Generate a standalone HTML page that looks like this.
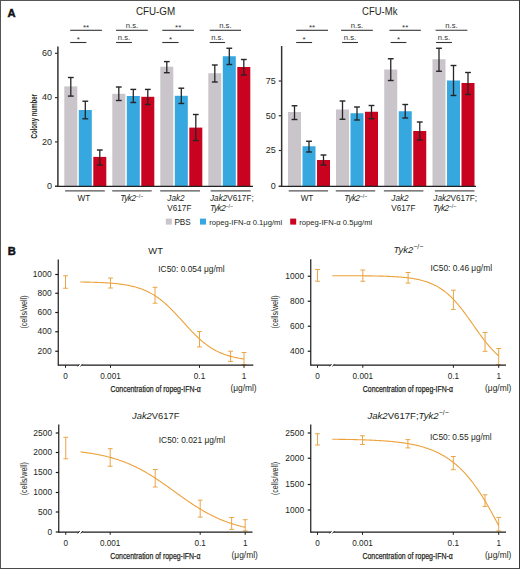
<!DOCTYPE html>
<html><head><meta charset="utf-8"><style>
html,body{margin:0;padding:0;background:#fff;}
body{width:520px;height:569px;overflow:hidden;}
svg{display:block;font-family:"Liberation Sans", sans-serif;}
</style></head><body>
<svg width="520" height="569" viewBox="0 0 520 569">
<rect x="0" y="0" width="520" height="1" fill="#555"/>
<rect x="0" y="0" width="1" height="569" fill="#555"/>
<rect x="519" y="0" width="1" height="569" fill="#3a3a3a"/>
<rect x="0" y="568" width="520" height="1" fill="#4a4a4a"/>
<text x="7.40" y="17.20" font-size="11.2" text-anchor="start" font-weight="bold" fill="#111" stroke="#111" stroke-width="0.45">A</text>
<text x="7.70" y="255.00" font-size="11.2" text-anchor="start" font-weight="bold" fill="#111" stroke="#111" stroke-width="0.45">B</text>
<rect x="64.30" y="86.40" width="13.00" height="99.90" fill="#c9c5cb"/>
<rect x="78.80" y="110.00" width="13.00" height="76.30" fill="#36a7df"/>
<rect x="93.30" y="156.90" width="13.00" height="29.40" fill="#c9021f"/>
<line x1="70.80" y1="77.50" x2="70.80" y2="96.10" stroke="#262626" stroke-width="1.3"/>
<line x1="67.90" y1="77.50" x2="73.70" y2="77.50" stroke="#262626" stroke-width="1.4"/>
<line x1="67.90" y1="96.10" x2="73.70" y2="96.10" stroke="#262626" stroke-width="1.4"/>
<line x1="85.30" y1="101.20" x2="85.30" y2="118.80" stroke="#262626" stroke-width="1.3"/>
<line x1="82.40" y1="101.20" x2="88.20" y2="101.20" stroke="#262626" stroke-width="1.4"/>
<line x1="82.40" y1="118.80" x2="88.20" y2="118.80" stroke="#262626" stroke-width="1.4"/>
<line x1="99.80" y1="150.00" x2="99.80" y2="165.00" stroke="#262626" stroke-width="1.3"/>
<line x1="96.90" y1="150.00" x2="102.70" y2="150.00" stroke="#262626" stroke-width="1.4"/>
<line x1="96.90" y1="165.00" x2="102.70" y2="165.00" stroke="#262626" stroke-width="1.4"/>
<rect x="112.30" y="93.80" width="13.00" height="92.50" fill="#c9c5cb"/>
<rect x="126.80" y="96.00" width="13.00" height="90.30" fill="#36a7df"/>
<rect x="141.30" y="96.80" width="13.00" height="89.50" fill="#c9021f"/>
<line x1="118.80" y1="87.00" x2="118.80" y2="100.50" stroke="#262626" stroke-width="1.3"/>
<line x1="115.90" y1="87.00" x2="121.70" y2="87.00" stroke="#262626" stroke-width="1.4"/>
<line x1="115.90" y1="100.50" x2="121.70" y2="100.50" stroke="#262626" stroke-width="1.4"/>
<line x1="133.30" y1="89.40" x2="133.30" y2="102.50" stroke="#262626" stroke-width="1.3"/>
<line x1="130.40" y1="89.40" x2="136.20" y2="89.40" stroke="#262626" stroke-width="1.4"/>
<line x1="130.40" y1="102.50" x2="136.20" y2="102.50" stroke="#262626" stroke-width="1.4"/>
<line x1="147.80" y1="89.40" x2="147.80" y2="104.50" stroke="#262626" stroke-width="1.3"/>
<line x1="144.90" y1="89.40" x2="150.70" y2="89.40" stroke="#262626" stroke-width="1.4"/>
<line x1="144.90" y1="104.50" x2="150.70" y2="104.50" stroke="#262626" stroke-width="1.4"/>
<rect x="160.30" y="66.70" width="13.00" height="119.60" fill="#c9c5cb"/>
<rect x="174.80" y="95.80" width="13.00" height="90.50" fill="#36a7df"/>
<rect x="189.30" y="127.60" width="13.00" height="58.70" fill="#c9021f"/>
<line x1="166.80" y1="61.60" x2="166.80" y2="72.70" stroke="#262626" stroke-width="1.3"/>
<line x1="163.90" y1="61.60" x2="169.70" y2="61.60" stroke="#262626" stroke-width="1.4"/>
<line x1="163.90" y1="72.70" x2="169.70" y2="72.70" stroke="#262626" stroke-width="1.4"/>
<line x1="181.30" y1="88.20" x2="181.30" y2="103.50" stroke="#262626" stroke-width="1.3"/>
<line x1="178.40" y1="88.20" x2="184.20" y2="88.20" stroke="#262626" stroke-width="1.4"/>
<line x1="178.40" y1="103.50" x2="184.20" y2="103.50" stroke="#262626" stroke-width="1.4"/>
<line x1="195.80" y1="114.50" x2="195.80" y2="140.60" stroke="#262626" stroke-width="1.3"/>
<line x1="192.90" y1="114.50" x2="198.70" y2="114.50" stroke="#262626" stroke-width="1.4"/>
<line x1="192.90" y1="140.60" x2="198.70" y2="140.60" stroke="#262626" stroke-width="1.4"/>
<rect x="208.30" y="73.25" width="13.00" height="113.05" fill="#c9c5cb"/>
<rect x="222.80" y="56.25" width="13.00" height="130.05" fill="#36a7df"/>
<rect x="237.30" y="67.00" width="13.00" height="119.30" fill="#c9021f"/>
<line x1="214.80" y1="65.00" x2="214.80" y2="82.00" stroke="#262626" stroke-width="1.3"/>
<line x1="211.90" y1="65.00" x2="217.70" y2="65.00" stroke="#262626" stroke-width="1.4"/>
<line x1="211.90" y1="82.00" x2="217.70" y2="82.00" stroke="#262626" stroke-width="1.4"/>
<line x1="229.30" y1="48.25" x2="229.30" y2="64.50" stroke="#262626" stroke-width="1.3"/>
<line x1="226.40" y1="48.25" x2="232.20" y2="48.25" stroke="#262626" stroke-width="1.4"/>
<line x1="226.40" y1="64.50" x2="232.20" y2="64.50" stroke="#262626" stroke-width="1.4"/>
<line x1="243.80" y1="59.50" x2="243.80" y2="75.00" stroke="#262626" stroke-width="1.3"/>
<line x1="240.90" y1="59.50" x2="246.70" y2="59.50" stroke="#262626" stroke-width="1.4"/>
<line x1="240.90" y1="75.00" x2="246.70" y2="75.00" stroke="#262626" stroke-width="1.4"/>
<line x1="57.90" y1="46.40" x2="57.90" y2="187.00" stroke="#333" stroke-width="1.5"/>
<line x1="55.00" y1="186.30" x2="253.00" y2="186.30" stroke="#222" stroke-width="1.3"/>
<line x1="55.00" y1="186.30" x2="57.90" y2="186.30" stroke="#333" stroke-width="1.2"/>
<text x="52.00" y="189.10" font-size="9.0" text-anchor="end" fill="#231f20" >0</text>
<line x1="55.00" y1="141.90" x2="57.90" y2="141.90" stroke="#333" stroke-width="1.2"/>
<text x="52.00" y="144.70" font-size="9.0" text-anchor="end" fill="#231f20" >20</text>
<line x1="55.00" y1="97.60" x2="57.90" y2="97.60" stroke="#333" stroke-width="1.2"/>
<text x="52.00" y="100.40" font-size="9.0" text-anchor="end" fill="#231f20" >40</text>
<line x1="55.00" y1="53.30" x2="57.90" y2="53.30" stroke="#333" stroke-width="1.2"/>
<text x="52.00" y="56.10" font-size="9.0" text-anchor="end" fill="#231f20" >60</text>
<line x1="65.10" y1="190.80" x2="104.80" y2="190.80" stroke="#555" stroke-width="1.2"/>
<line x1="112.20" y1="190.80" x2="151.70" y2="190.80" stroke="#555" stroke-width="1.2"/>
<line x1="160.20" y1="190.80" x2="200.00" y2="190.80" stroke="#555" stroke-width="1.2"/>
<line x1="210.70" y1="190.80" x2="250.70" y2="190.80" stroke="#555" stroke-width="1.2"/>
<line x1="70.20" y1="30.30" x2="101.90" y2="30.30" stroke="#333" stroke-width="1.1"/>
<line x1="70.20" y1="42.50" x2="86.40" y2="42.50" stroke="#333" stroke-width="1.1"/>
<text x="86.05" y="30.20" font-size="8.0" text-anchor="middle" fill="#333" >**</text>
<text x="78.30" y="42.40" font-size="8.0" text-anchor="middle" fill="#333" >*</text>
<line x1="116.10" y1="30.30" x2="147.80" y2="30.30" stroke="#333" stroke-width="1.1"/>
<line x1="116.10" y1="42.50" x2="131.90" y2="42.50" stroke="#333" stroke-width="1.1"/>
<text x="131.95" y="28.00" font-size="7.7" text-anchor="middle" fill="#333" >n.s.</text>
<text x="124.00" y="40.20" font-size="7.7" text-anchor="middle" fill="#333" >n.s.</text>
<line x1="162.30" y1="30.30" x2="194.00" y2="30.30" stroke="#333" stroke-width="1.1"/>
<line x1="162.30" y1="42.50" x2="178.60" y2="42.50" stroke="#333" stroke-width="1.1"/>
<text x="178.15" y="30.20" font-size="8.0" text-anchor="middle" fill="#333" >**</text>
<text x="170.45" y="42.40" font-size="8.0" text-anchor="middle" fill="#333" >*</text>
<line x1="209.70" y1="30.30" x2="241.00" y2="30.30" stroke="#333" stroke-width="1.1"/>
<line x1="209.70" y1="42.50" x2="225.10" y2="42.50" stroke="#333" stroke-width="1.1"/>
<text x="225.35" y="28.00" font-size="7.7" text-anchor="middle" fill="#333" >n.s.</text>
<text x="217.40" y="40.20" font-size="7.7" text-anchor="middle" fill="#333" >n.s.</text>
<text x="135.90" y="15.20" font-size="10" text-anchor="start" fill="#231f20" textLength="39.3" lengthAdjust="spacingAndGlyphs">CFU-GM</text>
<rect x="288.00" y="112.00" width="13.00" height="74.30" fill="#c9c5cb"/>
<rect x="302.50" y="146.25" width="13.00" height="40.05" fill="#36a7df"/>
<rect x="317.00" y="160.00" width="13.00" height="26.30" fill="#c9021f"/>
<line x1="294.50" y1="105.75" x2="294.50" y2="119.50" stroke="#262626" stroke-width="1.3"/>
<line x1="291.60" y1="105.75" x2="297.40" y2="105.75" stroke="#262626" stroke-width="1.4"/>
<line x1="291.60" y1="119.50" x2="297.40" y2="119.50" stroke="#262626" stroke-width="1.4"/>
<line x1="309.00" y1="141.25" x2="309.00" y2="152.00" stroke="#262626" stroke-width="1.3"/>
<line x1="306.10" y1="141.25" x2="311.90" y2="141.25" stroke="#262626" stroke-width="1.4"/>
<line x1="306.10" y1="152.00" x2="311.90" y2="152.00" stroke="#262626" stroke-width="1.4"/>
<line x1="323.50" y1="155.00" x2="323.50" y2="165.00" stroke="#262626" stroke-width="1.3"/>
<line x1="320.60" y1="155.00" x2="326.40" y2="155.00" stroke="#262626" stroke-width="1.4"/>
<line x1="320.60" y1="165.00" x2="326.40" y2="165.00" stroke="#262626" stroke-width="1.4"/>
<rect x="336.00" y="109.50" width="13.00" height="76.80" fill="#c9c5cb"/>
<rect x="350.50" y="113.25" width="13.00" height="73.05" fill="#36a7df"/>
<rect x="365.00" y="111.75" width="13.00" height="74.55" fill="#c9021f"/>
<line x1="342.50" y1="101.00" x2="342.50" y2="119.25" stroke="#262626" stroke-width="1.3"/>
<line x1="339.60" y1="101.00" x2="345.40" y2="101.00" stroke="#262626" stroke-width="1.4"/>
<line x1="339.60" y1="119.25" x2="345.40" y2="119.25" stroke="#262626" stroke-width="1.4"/>
<line x1="357.00" y1="107.00" x2="357.00" y2="120.00" stroke="#262626" stroke-width="1.3"/>
<line x1="354.10" y1="107.00" x2="359.90" y2="107.00" stroke="#262626" stroke-width="1.4"/>
<line x1="354.10" y1="120.00" x2="359.90" y2="120.00" stroke="#262626" stroke-width="1.4"/>
<line x1="371.50" y1="105.50" x2="371.50" y2="118.75" stroke="#262626" stroke-width="1.3"/>
<line x1="368.60" y1="105.50" x2="374.40" y2="105.50" stroke="#262626" stroke-width="1.4"/>
<line x1="368.60" y1="118.75" x2="374.40" y2="118.75" stroke="#262626" stroke-width="1.4"/>
<rect x="384.25" y="69.50" width="13.00" height="116.80" fill="#c9c5cb"/>
<rect x="398.75" y="111.25" width="13.00" height="75.05" fill="#36a7df"/>
<rect x="413.25" y="131.00" width="13.00" height="55.30" fill="#c9021f"/>
<line x1="390.75" y1="58.75" x2="390.75" y2="80.50" stroke="#262626" stroke-width="1.3"/>
<line x1="387.85" y1="58.75" x2="393.65" y2="58.75" stroke="#262626" stroke-width="1.4"/>
<line x1="387.85" y1="80.50" x2="393.65" y2="80.50" stroke="#262626" stroke-width="1.4"/>
<line x1="405.25" y1="104.50" x2="405.25" y2="118.00" stroke="#262626" stroke-width="1.3"/>
<line x1="402.35" y1="104.50" x2="408.15" y2="104.50" stroke="#262626" stroke-width="1.4"/>
<line x1="402.35" y1="118.00" x2="408.15" y2="118.00" stroke="#262626" stroke-width="1.4"/>
<line x1="419.75" y1="122.00" x2="419.75" y2="140.00" stroke="#262626" stroke-width="1.3"/>
<line x1="416.85" y1="122.00" x2="422.65" y2="122.00" stroke="#262626" stroke-width="1.4"/>
<line x1="416.85" y1="140.00" x2="422.65" y2="140.00" stroke="#262626" stroke-width="1.4"/>
<rect x="432.50" y="59.25" width="13.00" height="127.05" fill="#c9c5cb"/>
<rect x="447.00" y="80.50" width="13.00" height="105.80" fill="#36a7df"/>
<rect x="461.50" y="83.00" width="13.00" height="103.30" fill="#c9021f"/>
<line x1="439.00" y1="48.25" x2="439.00" y2="71.25" stroke="#262626" stroke-width="1.3"/>
<line x1="436.10" y1="48.25" x2="441.90" y2="48.25" stroke="#262626" stroke-width="1.4"/>
<line x1="436.10" y1="71.25" x2="441.90" y2="71.25" stroke="#262626" stroke-width="1.4"/>
<line x1="453.50" y1="65.50" x2="453.50" y2="95.50" stroke="#262626" stroke-width="1.3"/>
<line x1="450.60" y1="65.50" x2="456.40" y2="65.50" stroke="#262626" stroke-width="1.4"/>
<line x1="450.60" y1="95.50" x2="456.40" y2="95.50" stroke="#262626" stroke-width="1.4"/>
<line x1="468.00" y1="72.50" x2="468.00" y2="94.50" stroke="#262626" stroke-width="1.3"/>
<line x1="465.10" y1="72.50" x2="470.90" y2="72.50" stroke="#262626" stroke-width="1.4"/>
<line x1="465.10" y1="94.50" x2="470.90" y2="94.50" stroke="#262626" stroke-width="1.4"/>
<line x1="281.65" y1="46.00" x2="281.65" y2="187.00" stroke="#333" stroke-width="1.5"/>
<line x1="278.75" y1="186.30" x2="476.00" y2="186.30" stroke="#222" stroke-width="1.3"/>
<line x1="278.75" y1="186.30" x2="281.65" y2="186.30" stroke="#333" stroke-width="1.2"/>
<text x="275.75" y="189.10" font-size="9.0" text-anchor="end" fill="#231f20" >0</text>
<line x1="278.75" y1="150.50" x2="281.65" y2="150.50" stroke="#333" stroke-width="1.2"/>
<text x="275.75" y="153.30" font-size="9.0" text-anchor="end" fill="#231f20" >25</text>
<line x1="278.75" y1="115.75" x2="281.65" y2="115.75" stroke="#333" stroke-width="1.2"/>
<text x="275.75" y="118.55" font-size="9.0" text-anchor="end" fill="#231f20" >50</text>
<line x1="278.75" y1="81.00" x2="281.65" y2="81.00" stroke="#333" stroke-width="1.2"/>
<text x="275.75" y="83.80" font-size="9.0" text-anchor="end" fill="#231f20" >75</text>
<line x1="288.70" y1="190.80" x2="328.10" y2="190.80" stroke="#555" stroke-width="1.2"/>
<line x1="335.80" y1="190.80" x2="375.20" y2="190.80" stroke="#555" stroke-width="1.2"/>
<line x1="383.90" y1="190.80" x2="423.40" y2="190.80" stroke="#555" stroke-width="1.2"/>
<line x1="434.80" y1="190.80" x2="474.50" y2="190.80" stroke="#555" stroke-width="1.2"/>
<line x1="296.20" y1="30.30" x2="328.00" y2="30.30" stroke="#333" stroke-width="1.1"/>
<line x1="296.20" y1="42.50" x2="312.10" y2="42.50" stroke="#333" stroke-width="1.1"/>
<text x="312.10" y="30.20" font-size="8.0" text-anchor="middle" fill="#333" >**</text>
<text x="304.15" y="42.40" font-size="8.0" text-anchor="middle" fill="#333" >*</text>
<line x1="341.10" y1="30.30" x2="372.80" y2="30.30" stroke="#333" stroke-width="1.1"/>
<line x1="342.10" y1="42.50" x2="358.00" y2="42.50" stroke="#333" stroke-width="1.1"/>
<text x="356.95" y="28.00" font-size="7.7" text-anchor="middle" fill="#333" >n.s.</text>
<text x="350.05" y="40.20" font-size="7.7" text-anchor="middle" fill="#333" >n.s.</text>
<line x1="389.50" y1="30.30" x2="420.80" y2="30.30" stroke="#333" stroke-width="1.1"/>
<line x1="390.60" y1="42.50" x2="406.40" y2="42.50" stroke="#333" stroke-width="1.1"/>
<text x="405.15" y="30.20" font-size="8.0" text-anchor="middle" fill="#333" >**</text>
<text x="398.50" y="42.40" font-size="8.0" text-anchor="middle" fill="#333" >*</text>
<line x1="435.60" y1="30.30" x2="467.40" y2="30.30" stroke="#333" stroke-width="1.1"/>
<line x1="436.10" y1="42.50" x2="451.90" y2="42.50" stroke="#333" stroke-width="1.1"/>
<text x="451.50" y="28.00" font-size="7.7" text-anchor="middle" fill="#333" >n.s.</text>
<text x="444.00" y="40.20" font-size="7.7" text-anchor="middle" fill="#333" >n.s.</text>
<text x="362.10" y="15.20" font-size="10" text-anchor="start" fill="#231f20" textLength="35.3" lengthAdjust="spacingAndGlyphs">CFU-Mk</text>
<text transform="translate(36.6,116.25) rotate(-90)" font-size="9.35" font-weight="bold" text-anchor="middle" fill="#231f20" textLength="44.3" lengthAdjust="spacingAndGlyphs">Colony number</text>
<text x="83.80" y="201.00" font-size="8.2" text-anchor="middle" fill="#231f20" >WT</text>
<text x="120.20" y="201.00" font-size="8.2" text-anchor="start" fill="#231f20" ><tspan font-style="italic" letter-spacing="-0.45">Tyk2</tspan><tspan font-size="5.4" dy="-3.3">−/−</tspan></text>
<text x="167.30" y="201.00" font-size="8.2" text-anchor="start" font-style="italic" fill="#231f20" >Jak2</text>
<text x="167.30" y="211.20" font-size="8.2" text-anchor="start" fill="#231f20" >V617F</text>
<text x="210.00" y="201.00" font-size="8.2" text-anchor="start" fill="#231f20" ><tspan font-style="italic">Jak2</tspan>V617F;</text>
<text x="210.00" y="211.20" font-size="8.2" text-anchor="start" fill="#231f20" ><tspan font-style="italic" letter-spacing="-0.45">Tyk2</tspan><tspan font-size="5.4" dy="-3.3">−/−</tspan></text>
<text x="307.00" y="201.00" font-size="8.2" text-anchor="middle" fill="#231f20" >WT</text>
<text x="344.30" y="201.00" font-size="8.2" text-anchor="start" fill="#231f20" ><tspan font-style="italic" letter-spacing="-0.45">Tyk2</tspan><tspan font-size="5.4" dy="-3.3">−/−</tspan></text>
<text x="391.30" y="201.00" font-size="8.2" text-anchor="start" font-style="italic" fill="#231f20" >Jak2</text>
<text x="391.30" y="211.20" font-size="8.2" text-anchor="start" fill="#231f20" >V617F</text>
<text x="433.30" y="201.00" font-size="8.2" text-anchor="start" fill="#231f20" ><tspan font-style="italic">Jak2</tspan>V617F;</text>
<text x="433.30" y="211.20" font-size="8.2" text-anchor="start" fill="#231f20" ><tspan font-style="italic" letter-spacing="-0.45">Tyk2</tspan><tspan font-size="5.4" dy="-3.3">−/−</tspan></text>
<rect x="165.80" y="218.60" width="6.00" height="6.00" fill="#c9c5cb"/>
<text x="174.40" y="224.50" font-size="8.2" text-anchor="start" fill="#231f20" >PBS</text>
<rect x="200.00" y="218.60" width="6.00" height="6.00" fill="#36a7df"/>
<text x="209.20" y="224.50" font-size="7.65" text-anchor="start" fill="#231f20" >ropeg-IFN-α 0.1μg/ml</text>
<rect x="290.20" y="218.60" width="6.00" height="6.00" fill="#c9021f"/>
<text x="299.30" y="224.50" font-size="7.65" text-anchor="start" fill="#231f20" >ropeg-IFN-α 0.5μg/ml</text>
<polyline points="80.30,282.00 81.19,282.02 82.08,282.03 82.97,282.04 83.86,282.06 84.75,282.08 85.64,282.09 86.53,282.11 87.42,282.13 88.31,282.15 89.20,282.17 90.09,282.19 90.98,282.22 91.87,282.24 92.76,282.27 93.65,282.29 94.54,282.32 95.43,282.35 96.32,282.38 97.21,282.41 98.10,282.45 98.99,282.48 99.88,282.52 100.77,282.56 101.66,282.60 102.55,282.64 103.44,282.69 104.33,282.74 105.22,282.79 106.11,282.84 107.00,282.89 107.89,282.95 108.78,283.01 109.67,283.08 110.56,283.14 111.45,283.21 112.34,283.29 113.23,283.36 114.12,283.44 115.01,283.53 115.90,283.62 116.79,283.71 117.68,283.81 118.57,283.91 119.46,284.02 120.35,284.13 121.24,284.25 122.13,284.37 123.02,284.50 123.91,284.64 124.80,284.78 125.69,284.93 126.58,285.08 127.47,285.24 128.36,285.41 129.25,285.59 130.14,285.78 131.03,285.97 131.92,286.17 132.81,286.38 133.70,286.61 134.59,286.84 135.48,287.08 136.37,287.33 137.26,287.59 138.15,287.87 139.04,288.16 139.93,288.45 140.82,288.76 141.71,289.09 142.60,289.43 143.49,289.78 144.38,290.14 145.27,290.52 146.16,290.92 147.05,291.33 147.94,291.75 148.83,292.19 149.72,292.65 150.61,293.13 151.50,293.62 152.39,294.13 153.28,294.65 154.17,295.20 155.06,295.76 155.95,296.34 156.84,296.94 157.73,297.56 158.62,298.20 159.51,298.86 160.40,299.53 161.29,300.23 162.18,300.94 163.07,301.67 163.96,302.42 164.85,303.19 165.74,303.97 166.63,304.78 167.52,305.60 168.41,306.43 169.30,307.28 170.19,308.15 171.08,309.03 171.97,309.93 172.86,310.84 173.75,311.76 174.64,312.70 175.53,313.64 176.42,314.59 177.31,315.55 178.20,316.52 179.09,317.50 179.98,318.48 180.87,319.46 181.76,320.45 182.65,321.43 183.54,322.42 184.43,323.41 185.32,324.40 186.21,325.38 187.10,326.35 187.99,327.33 188.88,328.29 189.77,329.25 190.66,330.20 191.55,331.13 192.44,332.06 193.33,332.98 194.22,333.88 195.11,334.77 196.00,335.64 196.89,336.50 197.78,337.35 198.67,338.17 199.56,338.98 200.45,339.78 201.34,340.55 202.23,341.31 203.12,342.05 204.01,342.77 204.90,343.48 205.79,344.16 206.68,344.83 207.57,345.47 208.46,346.10 209.35,346.71 210.24,347.30 211.13,347.87 212.02,348.42 212.91,348.96 213.80,349.48 214.69,349.98 215.58,350.46 216.47,350.93 217.36,351.37 218.25,351.81 219.14,352.22 220.03,352.63 220.92,353.01 221.81,353.38 222.70,353.74 223.59,354.09 224.48,354.42 225.37,354.73 226.26,355.04 227.15,355.33 228.04,355.61 228.93,355.88 229.82,356.13 230.71,356.38 231.60,356.62 232.49,356.84 233.38,357.06 234.27,357.27 235.16,357.46 236.05,357.65 236.94,357.83 237.83,358.01 238.72,358.17 239.61,358.33 240.50,358.48 241.39,358.63 242.28,358.77 243.17,358.90 244.00,359.02" fill="none" stroke="#eca139" stroke-width="1.1"/>
<line x1="65.50" y1="275.75" x2="65.50" y2="288.25" stroke="#e9a546" stroke-width="1"/>
<line x1="63.10" y1="275.75" x2="67.90" y2="275.75" stroke="#e9a546" stroke-width="1"/>
<line x1="63.10" y1="288.25" x2="67.90" y2="288.25" stroke="#e9a546" stroke-width="1"/>
<line x1="110.50" y1="278.00" x2="110.50" y2="288.00" stroke="#e9a546" stroke-width="1"/>
<line x1="108.10" y1="278.00" x2="112.90" y2="278.00" stroke="#e9a546" stroke-width="1"/>
<line x1="108.10" y1="288.00" x2="112.90" y2="288.00" stroke="#e9a546" stroke-width="1"/>
<line x1="155.00" y1="287.30" x2="155.00" y2="303.20" stroke="#e9a546" stroke-width="1"/>
<line x1="152.60" y1="287.30" x2="157.40" y2="287.30" stroke="#e9a546" stroke-width="1"/>
<line x1="152.60" y1="303.20" x2="157.40" y2="303.20" stroke="#e9a546" stroke-width="1"/>
<line x1="199.50" y1="331.50" x2="199.50" y2="347.00" stroke="#e9a546" stroke-width="1"/>
<line x1="197.10" y1="331.50" x2="201.90" y2="331.50" stroke="#e9a546" stroke-width="1"/>
<line x1="197.10" y1="347.00" x2="201.90" y2="347.00" stroke="#e9a546" stroke-width="1"/>
<line x1="230.60" y1="351.20" x2="230.60" y2="361.40" stroke="#e9a546" stroke-width="1"/>
<line x1="228.20" y1="351.20" x2="233.00" y2="351.20" stroke="#e9a546" stroke-width="1"/>
<line x1="228.20" y1="361.40" x2="233.00" y2="361.40" stroke="#e9a546" stroke-width="1"/>
<line x1="244.00" y1="352.50" x2="244.00" y2="364.60" stroke="#e9a546" stroke-width="1"/>
<line x1="241.60" y1="352.50" x2="246.40" y2="352.50" stroke="#e9a546" stroke-width="1"/>
<line x1="241.60" y1="364.60" x2="246.40" y2="364.60" stroke="#e9a546" stroke-width="1"/>
<line x1="58.25" y1="259.50" x2="58.25" y2="365.80" stroke="#1a1a1a" stroke-width="1.2"/>
<line x1="58.25" y1="365.20" x2="253.30" y2="365.20" stroke="#1a1a1a" stroke-width="1.2"/>
<rect x="78.50" y="363.20" width="3.5" height="4" fill="#fff"/>
<line x1="77.50" y1="366.40" x2="79.50" y2="364.00" stroke="#1a1a1a" stroke-width="1"/>
<line x1="80.50" y1="366.40" x2="82.50" y2="364.00" stroke="#1a1a1a" stroke-width="1"/>
<line x1="55.25" y1="274.50" x2="58.25" y2="274.50" stroke="#1a1a1a" stroke-width="1.2"/>
<text x="51.65" y="277.10" font-size="8.45" text-anchor="end" fill="#231f20" >1000</text>
<line x1="55.25" y1="293.25" x2="58.25" y2="293.25" stroke="#1a1a1a" stroke-width="1.2"/>
<text x="51.65" y="295.85" font-size="8.45" text-anchor="end" fill="#231f20" >800</text>
<line x1="55.25" y1="312.50" x2="58.25" y2="312.50" stroke="#1a1a1a" stroke-width="1.2"/>
<text x="51.65" y="315.10" font-size="8.45" text-anchor="end" fill="#231f20" >600</text>
<line x1="55.25" y1="331.75" x2="58.25" y2="331.75" stroke="#1a1a1a" stroke-width="1.2"/>
<text x="51.65" y="334.35" font-size="8.45" text-anchor="end" fill="#231f20" >400</text>
<line x1="55.25" y1="351.25" x2="58.25" y2="351.25" stroke="#1a1a1a" stroke-width="1.2"/>
<text x="51.65" y="353.85" font-size="8.45" text-anchor="end" fill="#231f20" >200</text>
<line x1="65.50" y1="365.20" x2="65.50" y2="367.80" stroke="#1a1a1a" stroke-width="1"/>
<text x="65.50" y="379.40" font-size="8.2" text-anchor="middle" fill="#231f20" >0</text>
<line x1="110.50" y1="365.20" x2="110.50" y2="367.80" stroke="#1a1a1a" stroke-width="1"/>
<text x="110.50" y="379.40" font-size="8.2" text-anchor="middle" fill="#231f20" >0.001</text>
<line x1="199.50" y1="365.20" x2="199.50" y2="367.80" stroke="#1a1a1a" stroke-width="1"/>
<text x="199.50" y="379.40" font-size="8.2" text-anchor="middle" fill="#231f20" >0.1</text>
<line x1="244.00" y1="365.20" x2="244.00" y2="367.80" stroke="#1a1a1a" stroke-width="1"/>
<text x="244.00" y="379.40" font-size="8.2" text-anchor="middle" fill="#231f20" >1</text>
<text x="110.50" y="391.50" font-size="9.3" text-anchor="start" fill="#231f20" textLength="90.2" lengthAdjust="spacingAndGlyphs" stroke="#231f20" stroke-width="0.25">Concentration of ropeg-IFN-α</text>
<text x="243.50" y="391.20" font-size="8.4" text-anchor="middle" fill="#231f20" >(μg/ml)</text>
<text x="155.6" y="253.6" font-size="9.4" text-anchor="middle" fill="#231f20">WT</text>
<text x="158.30" y="272.00" font-size="8.4" text-anchor="start" fill="#231f20" >IC50: 0.054 μg/ml</text>
<text transform="translate(26.6,312) rotate(-90)" font-size="9" text-anchor="middle" fill="#231f20" textLength="33.2" lengthAdjust="spacingAndGlyphs">(cells/well)</text>
<polyline points="332.30,275.68 333.21,275.68 334.11,275.68 335.02,275.69 335.92,275.69 336.83,275.69 337.74,275.69 338.64,275.69 339.55,275.70 340.45,275.70 341.36,275.70 342.27,275.70 343.17,275.71 344.08,275.71 344.98,275.71 345.89,275.71 346.80,275.72 347.70,275.72 348.61,275.72 349.51,275.73 350.42,275.73 351.33,275.74 352.23,275.74 353.14,275.75 354.04,275.75 354.95,275.76 355.86,275.76 356.76,275.77 357.67,275.77 358.57,275.78 359.48,275.79 360.39,275.79 361.29,275.80 362.20,275.81 363.10,275.82 364.01,275.83 364.92,275.84 365.82,275.85 366.73,275.86 367.63,275.87 368.54,275.88 369.45,275.89 370.35,275.90 371.26,275.92 372.16,275.93 373.07,275.95 373.98,275.96 374.88,275.98 375.79,276.00 376.69,276.01 377.60,276.03 378.51,276.05 379.41,276.08 380.32,276.10 381.22,276.12 382.13,276.15 383.04,276.17 383.94,276.20 384.85,276.23 385.75,276.26 386.66,276.30 387.57,276.33 388.47,276.37 389.38,276.41 390.28,276.45 391.19,276.49 392.10,276.53 393.00,276.58 393.91,276.63 394.81,276.68 395.72,276.74 396.63,276.79 397.53,276.85 398.44,276.92 399.34,276.99 400.25,277.06 401.16,277.13 402.06,277.21 402.97,277.29 403.87,277.38 404.78,277.47 405.69,277.57 406.59,277.67 407.50,277.78 408.40,277.89 409.31,278.01 410.22,278.13 411.12,278.26 412.03,278.40 412.93,278.54 413.84,278.69 414.75,278.85 415.65,279.02 416.56,279.19 417.46,279.38 418.37,279.57 419.28,279.77 420.18,279.99 421.09,280.21 421.99,280.44 422.90,280.69 423.81,280.95 424.71,281.22 425.62,281.50 426.52,281.80 427.43,282.11 428.34,282.43 429.24,282.77 430.15,283.13 431.05,283.50 431.96,283.89 432.87,284.29 433.77,284.71 434.68,285.16 435.58,285.62 436.49,286.10 437.40,286.60 438.30,287.12 439.21,287.67 440.11,288.24 441.02,288.82 441.93,289.44 442.83,290.07 443.74,290.73 444.64,291.42 445.55,292.13 446.46,292.86 447.36,293.62 448.27,294.41 449.17,295.22 450.08,296.06 450.99,296.92 451.89,297.81 452.80,298.73 453.70,299.67 454.61,300.64 455.52,301.63 456.42,302.65 457.33,303.69 458.23,304.76 459.14,305.85 460.05,306.96 460.95,308.10 461.86,309.25 462.76,310.42 463.67,311.62 464.58,312.83 465.48,314.05 466.39,315.29 467.29,316.54 468.20,317.80 469.11,319.08 470.01,320.36 470.92,321.64 471.82,322.93 472.73,324.23 473.64,325.52 474.54,326.81 475.45,328.10 476.35,329.39 477.26,330.67 478.17,331.94 479.07,333.20 479.98,334.45 480.88,335.69 481.79,336.91 482.70,338.12 483.60,339.31 484.51,340.49 485.41,341.64 486.32,342.77 487.23,343.88 488.13,344.97 489.04,346.04 489.94,347.08 490.85,348.09 491.76,349.09 492.66,350.05 493.57,350.99 494.47,351.91 495.38,352.80 496.29,353.66 497.19,354.49 498.10,355.30 498.70,355.83" fill="none" stroke="#eca139" stroke-width="1.1"/>
<line x1="317.50" y1="269.50" x2="317.50" y2="281.25" stroke="#e9a546" stroke-width="1"/>
<line x1="315.10" y1="269.50" x2="319.90" y2="269.50" stroke="#e9a546" stroke-width="1"/>
<line x1="315.10" y1="281.25" x2="319.90" y2="281.25" stroke="#e9a546" stroke-width="1"/>
<line x1="362.80" y1="270.00" x2="362.80" y2="281.25" stroke="#e9a546" stroke-width="1"/>
<line x1="360.40" y1="270.00" x2="365.20" y2="270.00" stroke="#e9a546" stroke-width="1"/>
<line x1="360.40" y1="281.25" x2="365.20" y2="281.25" stroke="#e9a546" stroke-width="1"/>
<line x1="408.10" y1="272.50" x2="408.10" y2="283.10" stroke="#e9a546" stroke-width="1"/>
<line x1="405.70" y1="272.50" x2="410.50" y2="272.50" stroke="#e9a546" stroke-width="1"/>
<line x1="405.70" y1="283.10" x2="410.50" y2="283.10" stroke="#e9a546" stroke-width="1"/>
<line x1="453.40" y1="290.20" x2="453.40" y2="309.40" stroke="#e9a546" stroke-width="1"/>
<line x1="451.00" y1="290.20" x2="455.80" y2="290.20" stroke="#e9a546" stroke-width="1"/>
<line x1="451.00" y1="309.40" x2="455.80" y2="309.40" stroke="#e9a546" stroke-width="1"/>
<line x1="485.06" y1="332.50" x2="485.06" y2="351.30" stroke="#e9a546" stroke-width="1"/>
<line x1="482.66" y1="332.50" x2="487.46" y2="332.50" stroke="#e9a546" stroke-width="1"/>
<line x1="482.66" y1="351.30" x2="487.46" y2="351.30" stroke="#e9a546" stroke-width="1"/>
<line x1="498.70" y1="348.50" x2="498.70" y2="364.60" stroke="#e9a546" stroke-width="1"/>
<line x1="496.30" y1="348.50" x2="501.10" y2="348.50" stroke="#e9a546" stroke-width="1"/>
<line x1="496.30" y1="364.60" x2="501.10" y2="364.60" stroke="#e9a546" stroke-width="1"/>
<line x1="310.75" y1="259.25" x2="310.75" y2="365.80" stroke="#1a1a1a" stroke-width="1.2"/>
<line x1="310.75" y1="365.20" x2="506.00" y2="365.20" stroke="#1a1a1a" stroke-width="1.2"/>
<rect x="330.50" y="363.20" width="3.5" height="4" fill="#fff"/>
<line x1="329.50" y1="366.40" x2="331.50" y2="364.00" stroke="#1a1a1a" stroke-width="1"/>
<line x1="332.50" y1="366.40" x2="334.50" y2="364.00" stroke="#1a1a1a" stroke-width="1"/>
<line x1="307.75" y1="276.25" x2="310.75" y2="276.25" stroke="#1a1a1a" stroke-width="1.2"/>
<text x="304.15" y="278.85" font-size="8.45" text-anchor="end" fill="#231f20" >1000</text>
<line x1="307.75" y1="301.25" x2="310.75" y2="301.25" stroke="#1a1a1a" stroke-width="1.2"/>
<text x="304.15" y="303.85" font-size="8.45" text-anchor="end" fill="#231f20" >800</text>
<line x1="307.75" y1="326.25" x2="310.75" y2="326.25" stroke="#1a1a1a" stroke-width="1.2"/>
<text x="304.15" y="328.85" font-size="8.45" text-anchor="end" fill="#231f20" >600</text>
<line x1="307.75" y1="351.25" x2="310.75" y2="351.25" stroke="#1a1a1a" stroke-width="1.2"/>
<text x="304.15" y="353.85" font-size="8.45" text-anchor="end" fill="#231f20" >400</text>
<line x1="317.50" y1="365.20" x2="317.50" y2="367.80" stroke="#1a1a1a" stroke-width="1"/>
<text x="317.50" y="379.40" font-size="8.2" text-anchor="middle" fill="#231f20" >0</text>
<line x1="362.80" y1="365.20" x2="362.80" y2="367.80" stroke="#1a1a1a" stroke-width="1"/>
<text x="362.80" y="379.40" font-size="8.2" text-anchor="middle" fill="#231f20" >0.001</text>
<line x1="453.40" y1="365.20" x2="453.40" y2="367.80" stroke="#1a1a1a" stroke-width="1"/>
<text x="453.40" y="379.40" font-size="8.2" text-anchor="middle" fill="#231f20" >0.1</text>
<line x1="498.70" y1="365.20" x2="498.70" y2="367.80" stroke="#1a1a1a" stroke-width="1"/>
<text x="498.70" y="379.40" font-size="8.2" text-anchor="middle" fill="#231f20" >1</text>
<text x="362.80" y="391.50" font-size="9.3" text-anchor="start" fill="#231f20" textLength="90.2" lengthAdjust="spacingAndGlyphs" stroke="#231f20" stroke-width="0.25">Concentration of ropeg-IFN-α</text>
<text x="498.20" y="391.20" font-size="8.4" text-anchor="middle" fill="#231f20" >(μg/ml)</text>
<text x="393.6" y="253.4" font-size="9.4" fill="#231f20"><tspan font-style="italic">Tyk2</tspan><tspan font-size="7" dy="-4.0">−/−</tspan></text>
<text x="430.40" y="271.40" font-size="8.4" text-anchor="start" fill="#231f20" >IC50: 0.46 μg/ml</text>
<text transform="translate(277.9,312) rotate(-90)" font-size="9" text-anchor="middle" fill="#231f20" textLength="33.2" lengthAdjust="spacingAndGlyphs">(cells/well)</text>
<polyline points="80.55,451.92 81.45,452.02 82.35,452.13 83.25,452.24 84.15,452.36 85.05,452.48 85.95,452.60 86.85,452.72 87.75,452.85 88.65,452.98 89.55,453.12 90.45,453.25 91.35,453.40 92.25,453.54 93.15,453.69 94.05,453.85 94.95,454.00 95.85,454.17 96.75,454.33 97.65,454.50 98.55,454.68 99.45,454.86 100.35,455.04 101.25,455.23 102.15,455.42 103.05,455.62 103.95,455.83 104.85,456.03 105.75,456.25 106.65,456.47 107.55,456.69 108.45,456.92 109.35,457.16 110.25,457.40 111.15,457.65 112.05,457.90 112.95,458.16 113.85,458.42 114.75,458.70 115.65,458.97 116.55,459.26 117.45,459.55 118.35,459.84 119.25,460.15 120.15,460.46 121.05,460.77 121.95,461.10 122.85,461.43 123.75,461.77 124.65,462.11 125.55,462.46 126.45,462.82 127.35,463.19 128.25,463.56 129.15,463.94 130.05,464.33 130.95,464.72 131.85,465.13 132.75,465.54 133.65,465.95 134.55,466.38 135.45,466.81 136.35,467.25 137.25,467.70 138.15,468.15 139.05,468.62 139.95,469.09 140.85,469.56 141.75,470.05 142.65,470.54 143.55,471.04 144.45,471.55 145.35,472.06 146.25,472.58 147.15,473.11 148.05,473.64 148.95,474.18 149.85,474.73 150.75,475.28 151.65,475.84 152.55,476.41 153.45,476.98 154.35,477.56 155.25,478.14 156.15,478.73 157.05,479.32 157.95,479.92 158.85,480.53 159.75,481.14 160.65,481.75 161.55,482.37 162.45,482.99 163.35,483.61 164.25,484.24 165.15,484.87 166.05,485.51 166.95,486.15 167.85,486.78 168.75,487.43 169.65,488.07 170.55,488.71 171.45,489.36 172.35,490.01 173.25,490.66 174.15,491.31 175.05,491.95 175.95,492.60 176.85,493.25 177.75,493.90 178.65,494.54 179.55,495.19 180.45,495.83 181.35,496.47 182.25,497.11 183.15,497.75 184.05,498.38 184.95,499.01 185.85,499.64 186.75,500.26 187.65,500.89 188.55,501.50 189.45,502.11 190.35,502.72 191.25,503.32 192.15,503.92 193.05,504.52 193.95,505.10 194.85,505.69 195.75,506.26 196.65,506.83 197.55,507.40 198.45,507.96 199.35,508.51 200.25,509.05 201.15,509.59 202.05,510.13 202.95,510.65 203.85,511.17 204.75,511.68 205.65,512.19 206.55,512.69 207.45,513.18 208.35,513.66 209.25,514.13 210.15,514.60 211.05,515.06 211.95,515.52 212.85,515.96 213.75,516.40 214.65,516.83 215.55,517.26 216.45,517.67 217.35,518.08 218.25,518.48 219.15,518.88 220.05,519.26 220.95,519.64 221.85,520.01 222.75,520.38 223.65,520.74 224.55,521.09 225.45,521.43 226.35,521.76 227.25,522.09 228.15,522.42 229.05,522.73 229.95,523.04 230.85,523.34 231.75,523.64 232.65,523.93 233.55,524.21 234.45,524.48 235.35,524.75 236.25,525.02 237.15,525.28 238.05,525.53 238.95,525.77 239.85,526.01 240.75,526.25 241.65,526.48 242.55,526.70 243.45,526.92 244.35,527.13 245.20,527.33" fill="none" stroke="#eca139" stroke-width="1.1"/>
<line x1="65.75" y1="437.30" x2="65.75" y2="458.80" stroke="#e9a546" stroke-width="1"/>
<line x1="63.35" y1="437.30" x2="68.15" y2="437.30" stroke="#e9a546" stroke-width="1"/>
<line x1="63.35" y1="458.80" x2="68.15" y2="458.80" stroke="#e9a546" stroke-width="1"/>
<line x1="110.20" y1="448.70" x2="110.20" y2="466.20" stroke="#e9a546" stroke-width="1"/>
<line x1="107.80" y1="448.70" x2="112.60" y2="448.70" stroke="#e9a546" stroke-width="1"/>
<line x1="107.80" y1="466.20" x2="112.60" y2="466.20" stroke="#e9a546" stroke-width="1"/>
<line x1="155.20" y1="469.50" x2="155.20" y2="487.00" stroke="#e9a546" stroke-width="1"/>
<line x1="152.80" y1="469.50" x2="157.60" y2="469.50" stroke="#e9a546" stroke-width="1"/>
<line x1="152.80" y1="487.00" x2="157.60" y2="487.00" stroke="#e9a546" stroke-width="1"/>
<line x1="200.20" y1="500.20" x2="200.20" y2="517.10" stroke="#e9a546" stroke-width="1"/>
<line x1="197.80" y1="500.20" x2="202.60" y2="500.20" stroke="#e9a546" stroke-width="1"/>
<line x1="197.80" y1="517.10" x2="202.60" y2="517.10" stroke="#e9a546" stroke-width="1"/>
<line x1="231.65" y1="517.50" x2="231.65" y2="529.40" stroke="#e9a546" stroke-width="1"/>
<line x1="229.25" y1="517.50" x2="234.05" y2="517.50" stroke="#e9a546" stroke-width="1"/>
<line x1="229.25" y1="529.40" x2="234.05" y2="529.40" stroke="#e9a546" stroke-width="1"/>
<line x1="245.20" y1="519.70" x2="245.20" y2="530.90" stroke="#e9a546" stroke-width="1"/>
<line x1="242.80" y1="519.70" x2="247.60" y2="519.70" stroke="#e9a546" stroke-width="1"/>
<line x1="242.80" y1="530.90" x2="247.60" y2="530.90" stroke="#e9a546" stroke-width="1"/>
<line x1="58.75" y1="424.50" x2="58.75" y2="532.80" stroke="#1a1a1a" stroke-width="1.2"/>
<line x1="58.75" y1="532.20" x2="252.50" y2="532.20" stroke="#1a1a1a" stroke-width="1.2"/>
<rect x="78.75" y="530.20" width="3.5" height="4" fill="#fff"/>
<line x1="77.75" y1="533.40" x2="79.75" y2="531.00" stroke="#1a1a1a" stroke-width="1"/>
<line x1="80.75" y1="533.40" x2="82.75" y2="531.00" stroke="#1a1a1a" stroke-width="1"/>
<line x1="55.75" y1="433.00" x2="58.75" y2="433.00" stroke="#1a1a1a" stroke-width="1.2"/>
<text x="52.15" y="435.60" font-size="8.45" text-anchor="end" fill="#231f20" >2500</text>
<line x1="55.75" y1="452.50" x2="58.75" y2="452.50" stroke="#1a1a1a" stroke-width="1.2"/>
<text x="52.15" y="455.10" font-size="8.45" text-anchor="end" fill="#231f20" >2000</text>
<line x1="55.75" y1="472.50" x2="58.75" y2="472.50" stroke="#1a1a1a" stroke-width="1.2"/>
<text x="52.15" y="475.10" font-size="8.45" text-anchor="end" fill="#231f20" >1500</text>
<line x1="55.75" y1="492.50" x2="58.75" y2="492.50" stroke="#1a1a1a" stroke-width="1.2"/>
<text x="52.15" y="495.10" font-size="8.45" text-anchor="end" fill="#231f20" >1000</text>
<line x1="55.75" y1="512.00" x2="58.75" y2="512.00" stroke="#1a1a1a" stroke-width="1.2"/>
<text x="52.15" y="514.60" font-size="8.45" text-anchor="end" fill="#231f20" >500</text>
<line x1="55.75" y1="532.00" x2="58.75" y2="532.00" stroke="#1a1a1a" stroke-width="1.2"/>
<text x="52.15" y="534.60" font-size="8.45" text-anchor="end" fill="#231f20" >0</text>
<line x1="65.75" y1="532.20" x2="65.75" y2="534.80" stroke="#1a1a1a" stroke-width="1"/>
<text x="65.75" y="546.40" font-size="8.2" text-anchor="middle" fill="#231f20" >0</text>
<line x1="110.20" y1="532.20" x2="110.20" y2="534.80" stroke="#1a1a1a" stroke-width="1"/>
<text x="110.20" y="546.40" font-size="8.2" text-anchor="middle" fill="#231f20" >0.001</text>
<line x1="200.20" y1="532.20" x2="200.20" y2="534.80" stroke="#1a1a1a" stroke-width="1"/>
<text x="200.20" y="546.40" font-size="8.2" text-anchor="middle" fill="#231f20" >0.1</text>
<line x1="245.20" y1="532.20" x2="245.20" y2="534.80" stroke="#1a1a1a" stroke-width="1"/>
<text x="245.20" y="546.40" font-size="8.2" text-anchor="middle" fill="#231f20" >1</text>
<text x="110.20" y="558.50" font-size="9.3" text-anchor="start" fill="#231f20" textLength="90.2" lengthAdjust="spacingAndGlyphs" stroke="#231f20" stroke-width="0.25">Concentration of ropeg-IFN-α</text>
<text x="244.70" y="558.20" font-size="8.4" text-anchor="middle" fill="#231f20" >(μg/ml)</text>
<text x="132" y="419" font-size="9.4" fill="#231f20"><tspan font-style="italic">Jak2</tspan>V617F</text>
<text x="158.80" y="442.90" font-size="8.4" text-anchor="start" fill="#231f20" >IC50: 0.021 μg/ml</text>
<text transform="translate(26.6,478.7) rotate(-90)" font-size="9" text-anchor="middle" fill="#231f20" textLength="33.2" lengthAdjust="spacingAndGlyphs">(cells/well)</text>
<polyline points="332.30,439.25 333.21,439.26 334.12,439.27 335.02,439.28 335.93,439.29 336.84,439.30 337.75,439.31 338.66,439.32 339.56,439.33 340.47,439.35 341.38,439.36 342.29,439.37 343.20,439.39 344.10,439.40 345.01,439.42 345.92,439.43 346.83,439.45 347.74,439.46 348.64,439.48 349.55,439.50 350.46,439.52 351.37,439.53 352.28,439.55 353.18,439.57 354.09,439.59 355.00,439.62 355.91,439.64 356.82,439.66 357.72,439.68 358.63,439.71 359.54,439.73 360.45,439.76 361.36,439.79 362.26,439.82 363.17,439.85 364.08,439.88 364.99,439.91 365.90,439.94 366.80,439.97 367.71,440.01 368.62,440.04 369.53,440.08 370.44,440.12 371.34,440.16 372.25,440.20 373.16,440.24 374.07,440.29 374.98,440.33 375.88,440.38 376.79,440.43 377.70,440.48 378.61,440.53 379.52,440.58 380.42,440.64 381.33,440.70 382.24,440.75 383.15,440.82 384.06,440.88 384.96,440.95 385.87,441.01 386.78,441.08 387.69,441.16 388.60,441.23 389.50,441.31 390.41,441.39 391.32,441.47 392.23,441.56 393.14,441.65 394.04,441.74 394.95,441.84 395.86,441.94 396.77,442.04 397.68,442.14 398.58,442.25 399.49,442.36 400.40,442.48 401.31,442.60 402.22,442.72 403.12,442.85 404.03,442.99 404.94,443.12 405.85,443.27 406.76,443.41 407.66,443.56 408.57,443.72 409.48,443.88 410.39,444.05 411.30,444.22 412.20,444.40 413.11,444.59 414.02,444.78 414.93,444.97 415.84,445.18 416.74,445.39 417.65,445.60 418.56,445.83 419.47,446.06 420.38,446.30 421.28,446.54 422.19,446.80 423.10,447.06 424.01,447.33 424.92,447.61 425.82,447.90 426.73,448.20 427.64,448.51 428.55,448.83 429.46,449.15 430.36,449.49 431.27,449.84 432.18,450.20 433.09,450.57 434.00,450.95 434.90,451.35 435.81,451.75 436.72,452.17 437.63,452.60 438.54,453.05 439.44,453.51 440.35,453.98 441.26,454.46 442.17,454.96 443.08,455.48 443.98,456.01 444.89,456.56 445.80,457.12 446.71,457.70 447.62,458.29 448.52,458.90 449.43,459.53 450.34,460.18 451.25,460.84 452.16,461.53 453.06,462.23 453.97,462.95 454.88,463.69 455.79,464.45 456.70,465.23 457.60,466.03 458.51,466.85 459.42,467.69 460.33,468.56 461.24,469.44 462.14,470.35 463.05,471.28 463.96,472.23 464.87,473.21 465.78,474.20 466.68,475.23 467.59,476.27 468.50,477.34 469.41,478.43 470.32,479.55 471.22,480.68 472.13,481.85 473.04,483.04 473.95,484.25 474.86,485.48 475.76,486.74 476.67,488.03 477.58,489.33 478.49,490.67 479.40,492.02 480.30,493.40 481.21,494.80 482.12,496.23 483.03,497.67 483.94,499.14 484.84,500.64 485.75,502.15 486.66,503.69 487.57,505.24 488.48,506.82 489.38,508.41 490.29,510.03 491.20,511.66 492.11,513.31 493.02,514.98 493.92,516.67 494.83,518.37 495.74,520.08 496.65,521.81 497.56,523.55 498.46,525.31 498.70,525.76" fill="none" stroke="#eca139" stroke-width="1.1"/>
<line x1="317.50" y1="433.75" x2="317.50" y2="445.00" stroke="#e9a546" stroke-width="1"/>
<line x1="315.10" y1="433.75" x2="319.90" y2="433.75" stroke="#e9a546" stroke-width="1"/>
<line x1="315.10" y1="445.00" x2="319.90" y2="445.00" stroke="#e9a546" stroke-width="1"/>
<line x1="362.50" y1="435.75" x2="362.50" y2="444.50" stroke="#e9a546" stroke-width="1"/>
<line x1="360.10" y1="435.75" x2="364.90" y2="435.75" stroke="#e9a546" stroke-width="1"/>
<line x1="360.10" y1="444.50" x2="364.90" y2="444.50" stroke="#e9a546" stroke-width="1"/>
<line x1="407.90" y1="439.60" x2="407.90" y2="447.90" stroke="#e9a546" stroke-width="1"/>
<line x1="405.50" y1="439.60" x2="410.30" y2="439.60" stroke="#e9a546" stroke-width="1"/>
<line x1="405.50" y1="447.90" x2="410.30" y2="447.90" stroke="#e9a546" stroke-width="1"/>
<line x1="453.30" y1="456.50" x2="453.30" y2="469.70" stroke="#e9a546" stroke-width="1"/>
<line x1="450.90" y1="456.50" x2="455.70" y2="456.50" stroke="#e9a546" stroke-width="1"/>
<line x1="450.90" y1="469.70" x2="455.70" y2="469.70" stroke="#e9a546" stroke-width="1"/>
<line x1="485.03" y1="494.80" x2="485.03" y2="506.40" stroke="#e9a546" stroke-width="1"/>
<line x1="482.63" y1="494.80" x2="487.43" y2="494.80" stroke="#e9a546" stroke-width="1"/>
<line x1="482.63" y1="506.40" x2="487.43" y2="506.40" stroke="#e9a546" stroke-width="1"/>
<line x1="498.70" y1="517.40" x2="498.70" y2="531.00" stroke="#e9a546" stroke-width="1"/>
<line x1="496.30" y1="517.40" x2="501.10" y2="517.40" stroke="#e9a546" stroke-width="1"/>
<line x1="496.30" y1="531.00" x2="501.10" y2="531.00" stroke="#e9a546" stroke-width="1"/>
<line x1="310.75" y1="424.50" x2="310.75" y2="532.80" stroke="#1a1a1a" stroke-width="1.2"/>
<line x1="310.75" y1="532.20" x2="506.00" y2="532.20" stroke="#1a1a1a" stroke-width="1.2"/>
<rect x="330.50" y="530.20" width="3.5" height="4" fill="#fff"/>
<line x1="329.50" y1="533.40" x2="331.50" y2="531.00" stroke="#1a1a1a" stroke-width="1"/>
<line x1="332.50" y1="533.40" x2="334.50" y2="531.00" stroke="#1a1a1a" stroke-width="1"/>
<line x1="307.75" y1="433.00" x2="310.75" y2="433.00" stroke="#1a1a1a" stroke-width="1.2"/>
<text x="304.15" y="435.60" font-size="8.45" text-anchor="end" fill="#231f20" >2500</text>
<line x1="307.75" y1="458.25" x2="310.75" y2="458.25" stroke="#1a1a1a" stroke-width="1.2"/>
<text x="304.15" y="460.85" font-size="8.45" text-anchor="end" fill="#231f20" >2000</text>
<line x1="307.75" y1="484.50" x2="310.75" y2="484.50" stroke="#1a1a1a" stroke-width="1.2"/>
<text x="304.15" y="487.10" font-size="8.45" text-anchor="end" fill="#231f20" >1500</text>
<line x1="307.75" y1="510.00" x2="310.75" y2="510.00" stroke="#1a1a1a" stroke-width="1.2"/>
<text x="304.15" y="512.60" font-size="8.45" text-anchor="end" fill="#231f20" >1000</text>
<line x1="317.50" y1="532.20" x2="317.50" y2="534.80" stroke="#1a1a1a" stroke-width="1"/>
<text x="317.50" y="546.40" font-size="8.2" text-anchor="middle" fill="#231f20" >0</text>
<line x1="362.50" y1="532.20" x2="362.50" y2="534.80" stroke="#1a1a1a" stroke-width="1"/>
<text x="362.50" y="546.40" font-size="8.2" text-anchor="middle" fill="#231f20" >0.001</text>
<line x1="453.30" y1="532.20" x2="453.30" y2="534.80" stroke="#1a1a1a" stroke-width="1"/>
<text x="453.30" y="546.40" font-size="8.2" text-anchor="middle" fill="#231f20" >0.1</text>
<line x1="498.70" y1="532.20" x2="498.70" y2="534.80" stroke="#1a1a1a" stroke-width="1"/>
<text x="498.70" y="546.40" font-size="8.2" text-anchor="middle" fill="#231f20" >1</text>
<text x="362.50" y="558.50" font-size="9.3" text-anchor="start" fill="#231f20" textLength="90.2" lengthAdjust="spacingAndGlyphs" stroke="#231f20" stroke-width="0.25">Concentration of ropeg-IFN-α</text>
<text x="498.20" y="558.20" font-size="8.4" text-anchor="middle" fill="#231f20" >(μg/ml)</text>
<text x="367.4" y="419.2" font-size="9.6" fill="#231f20"><tspan font-style="italic">Jak2</tspan>V617F;<tspan font-style="italic">Tyk2</tspan><tspan font-size="7" dy="-4.0">−/−</tspan></text>
<text x="430.00" y="439.60" font-size="8.4" text-anchor="start" fill="#231f20" >IC50: 0.55 μg/ml</text>
<text transform="translate(277.9,478.5) rotate(-90)" font-size="9" text-anchor="middle" fill="#231f20" textLength="33.2" lengthAdjust="spacingAndGlyphs">(cells/well)</text>
</svg>
</body></html>
